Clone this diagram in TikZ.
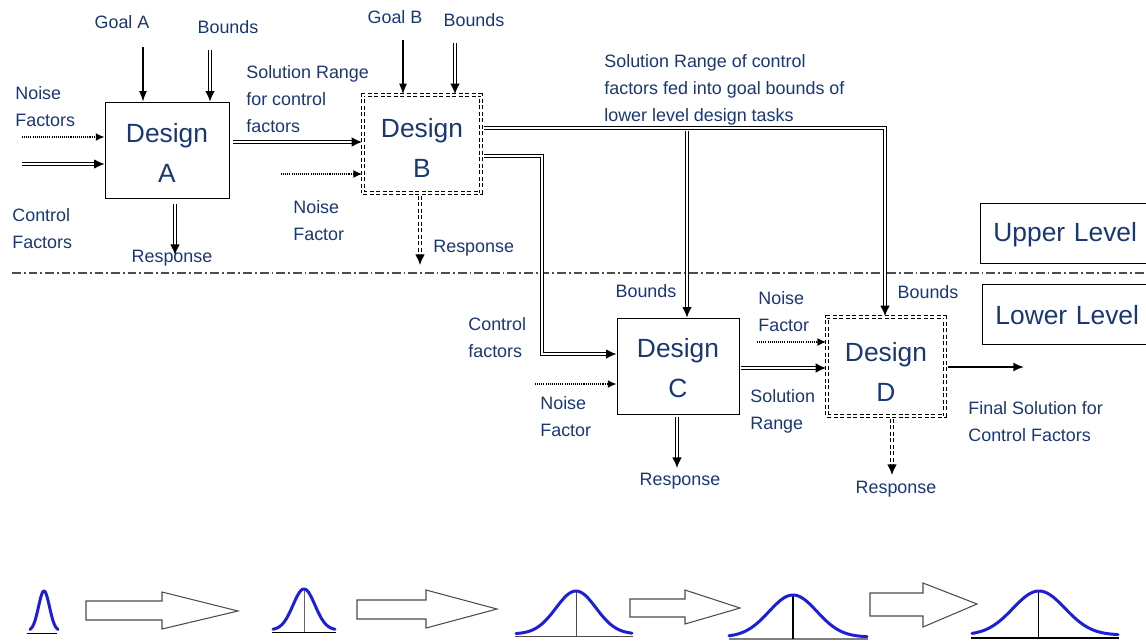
\documentclass[tikz,border=0pt]{standalone}
\usepackage{fontspec}
\setmainfont{Liberation Sans}
\usetikzlibrary{arrows.meta}
\definecolor{txt}{RGB}{25,55,115}
\definecolor{curve}{RGB}{30,30,215}
\begin{document}
\begin{tikzpicture}[x=0.02cm,y=-0.02cm,
  lbl/.style={text=txt, font=\fontsize{10.2}{15.3}\selectfont, inner sep=0pt, align=left},
  box/.style={draw, line width=0.5pt, font=\fontsize{15}{22.7}\selectfont, text=txt, align=center, inner sep=0pt},
  dbox/.style={box, line width=0.95pt, double, double distance=0.75pt, dash pattern=on 2.4pt off 1.3pt},
  lvl/.style={draw, line width=0.5pt, anchor=north west, font=\fontsize{15}{18}\selectfont, text=txt, align=left, inner xsep=0.26cm, text width=3.2cm, minimum height=1.2cm},
  sgl/.style={line width=0.6pt, -{Latex[length=6pt,width=4.5pt]}},
  dbl/.style={line width=0.85pt, double distance=0.7pt, -{Latex[length=6pt,width=5.5pt]}},
  ddash/.style={dbl, dash pattern=on 2.4pt off 1.3pt},
  dotarr/.style={line width=0.8pt, dash pattern=on 0.6pt off 0.6pt, -{Latex[length=5pt,width=4.5pt]}},
  hollow/.style={draw=black!70, line width=0.6pt, fill=white},
  gauss/.style={draw=curve, line width=1.7pt, line cap=round, line join=round}
]
\useasboundingbox (0,0) rectangle (1146,640);
\clip (0,0) rectangle (1146,640);

% separator
\draw[black!70, line width=0.6pt, dash pattern=on 5pt off 1.7pt on 1pt off 1.7pt] (12,273) -- (1146,273);

% level boxes
\node[lvl] (upper) at (980,203) {\rule{0pt}{12.6pt}Upper Level};
\node[lvl] (lower) at (982,284) {\rule{0pt}{11.6pt}Lower Level};

% design boxes
\node[box, minimum width=2.48cm, minimum height=1.92cm] (A) at (167,150) {\rule{0pt}{14.3pt}Design\\A};
\node[dbox, minimum width=2.36cm, minimum height=1.96cm] (B) at (422,144) {\rule{0pt}{15.4pt}Design\\B};
\node[box, minimum width=2.44cm, minimum height=1.92cm] (C) at (678,366) {\rule{0pt}{13.2pt}Design\\C};
\node[dbox, minimum width=2.36cm, minimum height=1.98cm] (D) at (886,366.5) {\rule{0pt}{16.6pt}Design\\D};

% labels upper level
\node[lbl] (goalA) at (122,22) {Goal A};
\node[lbl] (bndA) at (228,27) {Bounds};
\node[lbl, anchor=west] (noiseA) at (15,106.5) {Noise\\Factors};
\node[lbl, anchor=west] (ctrlA) at (12,228.5) {Control\\Factors};
\node[lbl] (respA) at (172,258) {Response};
\node[lbl, anchor=west] (solA) at (246,99) {Solution Range\\for control\\factors};
\node[lbl] (goalB) at (395,17) {Goal B};
\node[lbl] (bndB) at (474,20) {Bounds};
\node[lbl, anchor=west] (noiseB) at (293,220.5) {Noise\\Factor};
\node[lbl, anchor=west] (respB) at (433,248) {Response};
\node[lbl, anchor=west] (fed) at (604,89.5) {Solution Range of control\\factors fed into goal bounds of\\lower level design tasks};

% labels lower level
\node[lbl] (bndC) at (646,291) {Bounds};
\node[lbl, anchor=west] (ctrlC) at (468,337.5) {Control\\factors};
\node[lbl, anchor=west] (noiseC) at (540,416.5) {Noise\\Factor};
\node[lbl] (respC) at (680,481) {Response};
\node[lbl, anchor=west] (noiseD) at (758,311.5) {Noise\\Factor};
\node[lbl] (bndD) at (928,292) {Bounds};
\node[lbl, anchor=west] (solC) at (750,411.5) {Solution\\Range};
\node[lbl] (respD) at (896,489) {Response};
\node[lbl, anchor=west] (final) at (968,421.5) {Final Solution for\\Control Factors};

% free end coordinates
\coordinate (gA) at (143,47);
\coordinate (bA) at (210,50);
\coordinate (nA) at (22,137);
\coordinate (cA) at (22,164);
\coordinate (rA) at (175,255);
\coordinate (sA) at (233,142);
\coordinate (gB) at (403,40);
\coordinate (bB) at (455,43);
\coordinate (nB) at (281,174);
\coordinate (rB) at (420,265);
\coordinate (j1) at (885,128);
\coordinate (j2) at (687,131);
\coordinate (k1) at (542,156);
\coordinate (k2) at (542,354);
\coordinate (nC) at (535,384);
\coordinate (rC) at (677,468);
\coordinate (sC) at (741,368);
\coordinate (nD) at (757,342);
\coordinate (rD) at (892,475);
\coordinate (fD) at (1024,367);

% connectors design A
\draw[sgl] (gA) -- (gA |- A.north);
\draw[dbl] (bA) -- (bA |- A.north);
\draw[dotarr] (nA) -- (nA -| A.west);
\draw[dbl] (cA) -- (cA -| A.west);
\draw[dbl, shorten <=3.4pt] (rA |- A.south) -- (rA);
\draw[dbl] (sA) -- (sA -| B.west);

% connectors design B
\draw[sgl] (gB) -- (gB |- B.north);
\draw[dbl] (bB) -- (bB |- B.north);
\draw[dotarr] (nB) -- (nB -| B.west);
\draw[ddash, shorten <=1pt] (rB |- B.south) -- (rB);
\draw[dbl, shorten <=1.2pt] (j1 -| B.east) -- (j1) -- (j1 |- D.north);
\draw[dbl] (j2) -- (j2 |- C.north);
\draw[dbl, shorten <=1.2pt] (k1 -| B.east) -- (k1) -- (k2) -- (k2 -| C.west);

% connectors design C
\draw[dotarr] (nC) -- (nC -| C.west);
\draw[dbl, shorten <=1.2pt] (rC |- C.south) -- (rC);
\draw[dbl] (sC) -- (sC -| D.west);

% connectors design D
\draw[dotarr] (nD) -- (nD -| D.west);
\draw[ddash, shorten <=1pt] (rD |- D.south) -- (rD);
\draw[line width=1pt, -{Latex[length=6pt,width=5pt]}, shorten <=1.2pt] (fD -| D.east) -- (fD);

% bottom row: distributions
\draw[black, line width=0.5pt] (27,633) -- (57,633);
\draw[gauss] plot[domain=-14:14, samples=60] ({44+\x},{631-40*exp(-(\x*\x)/60)});

\draw[black!60, line width=0.5pt] (304,632) -- (304,589);
\draw[black, line width=0.5pt] (272,632) -- (336,632);
\draw[gauss] plot[domain=-31:31, samples=80] ({304+\x},{630-41*exp(-(\x*\x)/242)});

\draw[black!70, line width=0.5pt] (576,636) -- (576,591);
\draw[black!70, line width=0.5pt] (515,636) -- (633,636);
\draw[gauss] plot[domain=-60:56, samples=100] ({576+\x},{634-43*exp(-(\x*\x)/800)});

\draw[black!50, line width=0.6pt] (729,639) -- (868,639);
\draw[black, line width=1.3pt] (793,639) -- (793,596);
\draw[gauss] plot[domain=-64:74, samples=100] ({793+\x},{637-42*exp(-(\x*\x)/1152)});

\draw[black, line width=0.5pt] (1038,638) -- (1038,592);
\draw[black, line width=1.6pt] (971,638) -- (1119,638);
\draw[gauss] plot[domain=-67:79, samples=100] ({1039+\x},{635-44*exp(-(\x*\x)/1352)});

% bottom row: hollow arrows
\draw[hollow] (86,601) -- (162,601) -- (162,592) -- (238,611) -- (162,629) -- (162,620) -- (86,620) -- cycle;
\draw[hollow] (357,600) -- (426,600) -- (426,590) -- (497,609) -- (426,628) -- (426,619) -- (357,619) -- cycle;
\draw[hollow] (630,599) -- (685,599) -- (685,590) -- (740,608) -- (685,624) -- (685,617) -- (630,617) -- cycle;
\draw[hollow] (870,593) -- (923,593) -- (923,583) -- (977,604) -- (923,627) -- (923,616) -- (870,616) -- cycle;
\end{tikzpicture}
\end{document}
